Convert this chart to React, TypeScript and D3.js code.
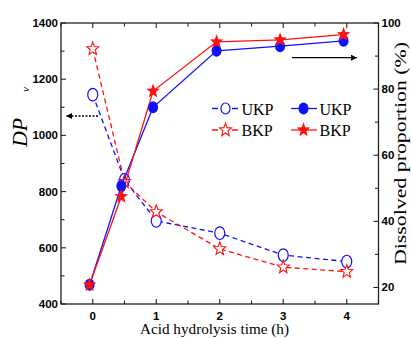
import React from "react";
import * as d3 from "d3";

const times = [0, 0.5, 1, 2, 3, 4];
const dissolvedTimes = [-0.05, 0.45, 0.95, 1.95, 2.95, 3.95];
const dpUKP = [1145, 842, 696, 652, 574, 551];
const dpBKP = [1308, 835, 728, 596, 531, 515];
const dissUKP = [20.8, 50.7, 74.5, 91.6, 93.0, 94.6];
const dissBKP = [20.8, 47.5, 79.4, 94.3, 94.9, 96.5];
const xTicks = [0, 1, 2, 3, 4];
const leftTicks = [400, 600, 800, 1000, 1200, 1400];
const rightTicks = [20, 40, 60, 80, 100];
const legendLabels = ["UKP", "BKP"];

const W = 411, H = 338;
const L = 61, R = 378.5, T = 23, B = 304;
const BLUE = "#1010ff";
const RED = "#ff1010";

function starPath(cx: number, cy: number, ro: number, ri: number) {
  const pts: string[] = [];
  for (let i = 0; i < 10; i++) {
    const r = i % 2 === 0 ? ro : ri;
    const a = -Math.PI / 2 + (i * Math.PI) / 5;
    pts.push(`${(cx + r * Math.cos(a)).toFixed(2)},${(cy + r * Math.sin(a) * 1.1).toFixed(2)}`);
  }
  return "M" + pts.join("L") + "Z";
}

export default function App() {
  const x = d3.scaleLinear().domain([-0.5, 4.5]).range([L, R]);
  const yL = d3.scaleLinear().domain([400, 1400]).range([B, T]);
  const yR = d3.scaleLinear().domain([15, 100]).range([B, T]);

  const lineL = (vals: number[]) =>
    d3.line<number>().x((_, i) => x(times[i])).y((v) => yL(v))(vals) || "";
  const lineR = (vals: number[]) =>
    d3.line<number>().x((_, i) => x(dissolvedTimes[i])).y((v) => yR(v))(vals) || "";

  const xMinor = d3.range(-0.5, 4.51, 0.5);
  const leftMinor = d3.range(400, 1401, 100);
  const rightMinor = d3.range(20, 101, 10);
  const tickStyle = { fontFamily: "'Liberation Sans', Arial, sans-serif", fontWeight: 700, fontSize: "11.5px" } as const;
  const serifStyle = { fontFamily: "'Liberation Serif', 'Times New Roman', Times, serif" } as const;

  const ly1 = 108.5, ly2 = 130;
  const lx1 = 212, lx2 = 291;

  return (
    <svg width={W} height={H} style={{ position: "absolute", left: 0, top: 0, background: "#fff" }}>
      <defs>
        <marker id="ah" viewBox="0 0 10 10" refX="10" refY="5" markerWidth="7" markerHeight="6" orient="auto" markerUnits="userSpaceOnUse">
          <path d="M0,0L10,5L0,10Z" fill="#000" />
        </marker>
      </defs>
      <rect x={L} y={T} width={R - L} height={B - T} fill="none" stroke="#222" strokeWidth={1.3} />
      {xMinor.map((t, i) => {
        const major = Math.abs(t - Math.round(t)) < 1e-6;
        const len = major ? 5 : 3.5;
        return (
          <g key={"xt" + i} stroke="#222" strokeWidth={1.1}>
            <line x1={x(t)} x2={x(t)} y1={B} y2={B - len} />
            <line x1={x(t)} x2={x(t)} y1={T} y2={T + len} />
          </g>
        );
      })}
      {xTicks.map((t) => (
        <text key={"xl" + t} x={x(t)} y={319.5} textAnchor="middle" style={tickStyle}>{t}</text>
      ))}
      {leftMinor.map((v) => {
        const major = v % 200 === 0;
        return <line key={"lt" + v} x1={L} x2={L + (major ? 5 : 3.5)} y1={yL(v)} y2={yL(v)} stroke="#222" strokeWidth={1.1} />;
      })}
      {leftTicks.map((v) => (
        <text key={"ll" + v} x={58} y={yL(v) + 4} textAnchor="end" style={tickStyle}>{v}</text>
      ))}
      {rightMinor.map((v) => {
        const major = v % 20 === 0;
        return <line key={"rt" + v} x1={R} x2={R - (major ? 5 : 3.5)} y1={yR(v)} y2={yR(v)} stroke="#222" strokeWidth={1.1} />;
      })}
      {rightTicks.map((v) => (
        <text key={"rl" + v} x={381.5} y={yR(v) + 4} textAnchor="start" style={tickStyle}>{v}</text>
      ))}

      <path d={lineL(dpUKP)} fill="none" stroke={BLUE} strokeWidth={1.3} strokeDasharray="5,3.5" />
      <path d={lineL(dpBKP)} fill="none" stroke={RED} strokeWidth={1.3} strokeDasharray="5,3.5" />
      {dpUKP.map((v, i) => (
        <ellipse key={"oc" + i} cx={x(times[i])} cy={yL(v)} rx={5} ry={6.3} fill="#fff" stroke={BLUE} strokeWidth={1.2} />
      ))}
      {dpBKP.map((v, i) => (
        <path key={"os" + i} d={starPath(x(times[i]), yL(v), 6.3, 2.7)} fill="#fff" stroke={RED} strokeWidth={1.1} />
      ))}

      <path d={lineR(dissUKP)} fill="none" stroke={BLUE} strokeWidth={1.3} />
      <path d={lineR(dissBKP)} fill="none" stroke={RED} strokeWidth={1.3} />
      {dissUKP.map((v, i) => (
        <ellipse key={"fc" + i} cx={x(dissolvedTimes[i])} cy={yR(v)} rx={5} ry={6} fill={BLUE} />
      ))}
      {dissBKP.map((v, i) => (
        <path key={"fs" + i} d={starPath(x(dissolvedTimes[i]), yR(v), 7, 3)} fill={RED} />
      ))}

      <line x1={98} x2={66} y1={116} y2={116} stroke="#000" strokeWidth={1.3} strokeDasharray="2,1.5" markerEnd="url(#ah)" />
      <line x1={292} x2={357} y1={57.7} y2={57.7} stroke="#000" strokeWidth={1.3} markerEnd="url(#ah)" />

      <line x1={lx1} x2={lx1 + 26} y1={ly1} y2={ly1} stroke={BLUE} strokeWidth={1.3} strokeDasharray="6,14" />
      <ellipse cx={lx1 + 13.5} cy={ly1} rx={4.5} ry={5.5} fill="#fff" stroke={BLUE} strokeWidth={1.2} />
      <line x1={lx1} x2={lx1 + 26} y1={ly2} y2={ly2} stroke={RED} strokeWidth={1.3} strokeDasharray="6,14" />
      <path d={starPath(lx1 + 13.5, ly2, 6.3, 2.7)} fill="#fff" stroke={RED} strokeWidth={1.1} />
      <line x1={lx2} x2={lx2 + 26} y1={ly1} y2={ly1} stroke={BLUE} strokeWidth={1.3} />
      <ellipse cx={lx2 + 12.5} cy={ly1} rx={5} ry={6} fill={BLUE} />
      <line x1={lx2} x2={lx2 + 26} y1={ly2} y2={ly2} stroke={RED} strokeWidth={1.3} />
      <path d={starPath(lx2 + 12.5, ly2, 7, 3)} fill={RED} />
      {legendLabels.map((lab, i) => (
        <g key={"lg" + i}>
          <text x={241.5} y={(i === 0 ? ly1 : ly2) + 6} style={{ ...serifStyle, fontSize: "16px" }}>{lab}</text>
          <text x={319.5} y={(i === 0 ? ly1 : ly2) + 6} style={{ ...serifStyle, fontSize: "16px" }}>{lab}</text>
        </g>
      ))}

      <text x={214.5} y={334} textAnchor="middle" style={{ ...serifStyle, fontSize: "15px" }} textLength={149} lengthAdjust="spacingAndGlyphs">
        Acid hydrolysis time (h)
      </text>
      <g transform="translate(27,147) rotate(-90)">
        <text x={0} y={0} style={{ ...serifStyle, fontSize: "21px", fontStyle: "italic" }} textLength={29} lengthAdjust="spacingAndGlyphs">DP</text>
        <text x={55} y={2} style={{ ...serifStyle, fontSize: "11px", fontStyle: "italic" }}>v</text>
      </g>
      <g transform="translate(406,265) rotate(-90)">
        <text x={0} y={0} style={{ ...serifStyle, fontSize: "16px" }} textLength={223} lengthAdjust="spacingAndGlyphs">Dissolved proportion (%)</text>
      </g>
    </svg>
  );
}
